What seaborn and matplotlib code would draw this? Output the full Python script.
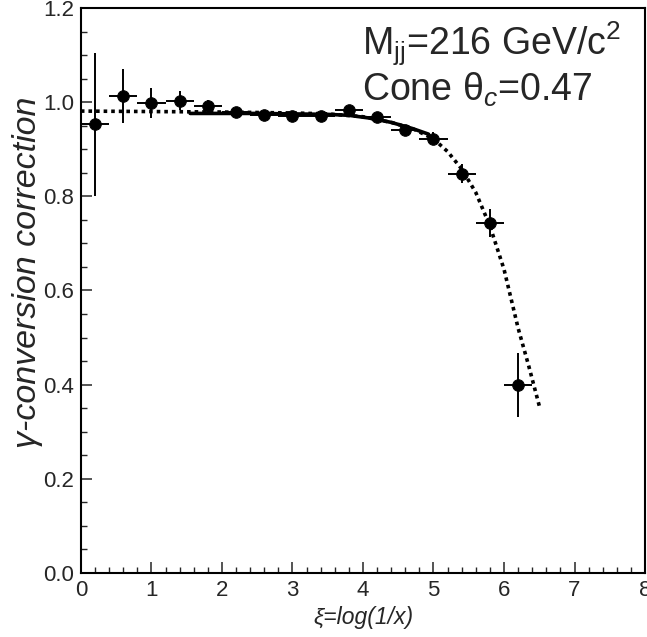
import numpy as np
import pandas as pd
import matplotlib
matplotlib.use("Agg")
import matplotlib.pyplot as plt
import seaborn as sns

# measured points (bin centres, correction, errors)
xi = [0.2, 0.6, 1.0, 1.4, 1.8, 2.2, 2.6, 3.0, 3.4, 3.8, 4.2, 4.6, 5.0, 5.4, 5.8, 6.2]
corr = [0.953, 1.013, 0.998, 1.003, 0.992, 0.979, 0.972, 0.970, 0.970, 0.983,
        0.969, 0.940, 0.922, 0.848, 0.743, 0.399]
corr_err = [0.152, 0.057, 0.032, 0.020, 0.013, 0.008, 0.008, 0.008, 0.008, 0.010,
            0.010, 0.012, 0.014, 0.020, 0.030, 0.068]
xi_err = [0.2] * len(xi)

# fit curves
fit_x = [1.55, 2.0, 2.5, 3.0, 3.5, 3.8, 4.1, 4.4, 4.7, 4.93]
fit_y = [0.976, 0.976, 0.976, 0.975, 0.974, 0.972, 0.966, 0.957, 0.944, 0.932]
ext_x = [0.0, 1.0, 2.0, 3.0, 3.5, 4.0, 4.4, 4.7, 5.0, 5.2, 5.4, 5.6, 5.8, 6.0, 6.2, 6.35, 6.5]
ext_y = [0.981, 0.980, 0.979, 0.977, 0.975, 0.969, 0.957, 0.944, 0.922, 0.895, 0.858,
         0.808, 0.737, 0.645, 0.520, 0.440, 0.355]

sns.set_style("white")
plt.rcParams["font.family"] = ["Liberation Sans", "DejaVu Sans"]
plt.rcParams["mathtext.fontset"] = "custom"
plt.rcParams["mathtext.rm"] = "Liberation Sans"
plt.rcParams["mathtext.it"] = "Liberation Sans:italic"

fig = plt.figure(figsize=(6.47, 6.37), dpi=100)
ax = fig.add_axes([0.125, 0.1005, 0.872, 0.887])

pts = pd.DataFrame({"xi": xi, "corr": corr})
ext = pd.DataFrame({"x": ext_x, "y": ext_y})
fit = pd.DataFrame({"x": fit_x, "y": fit_y})

sns.lineplot(data=ext, x="x", y="y", ax=ax, color="black", lw=2.6,
             linestyle=(0, (1, 1.1)), sort=False)
sns.lineplot(data=fit, x="x", y="y", ax=ax, color="black", lw=2.6, sort=False)
ax.errorbar(xi, corr, yerr=corr_err, xerr=xi_err, fmt="none", ecolor="black",
            elinewidth=1.4, capsize=0)
sns.scatterplot(data=pts, x="xi", y="corr", ax=ax, color="black", s=70,
                edgecolor="black", zorder=5)

ax.set_xlim(0, 8)
ax.set_ylim(0, 1.2)
ax.set_xticks(np.arange(0, 9, 1))
ax.set_xticks(np.arange(0, 8.01, 0.2), minor=True)
ax.set_yticks(np.arange(0, 1.21, 0.2))
ax.set_yticks(np.arange(0, 1.201, 0.05), minor=True)
ax.set_yticklabels([f"{v:.1f}" for v in np.arange(0, 1.21, 0.2)])
ax.tick_params(which="major", direction="in", length=8, width=1.1,
               labelsize=16, bottom=True, left=True, top=False, right=False, pad=5)
ax.tick_params(which="minor", direction="in", length=4, width=1.0,
               bottom=True, left=True, top=False, right=False)
for sp in ax.spines.values():
    sp.set_linewidth(1.5)
    sp.set_color("black")

ax.set_xlabel("ξ=log(1/x)", fontsize=16.5, fontstyle="italic", labelpad=4)
ax.set_ylabel("γ-conversion correction", fontsize=24.5, fontstyle="italic")
ax.yaxis.set_label_coords(-0.068, 0.533)

ax.text(3.99, 1.100, r"M$_{\rm jj}$=216 GeV/c$^{2}$", fontsize=27, ha="left", va="baseline")
ax.text(3.99, 1.003, r"Cone θ$_{c}$=0.47", fontsize=27, ha="left", va="baseline")

fig.savefig("out.png", dpi=100)
